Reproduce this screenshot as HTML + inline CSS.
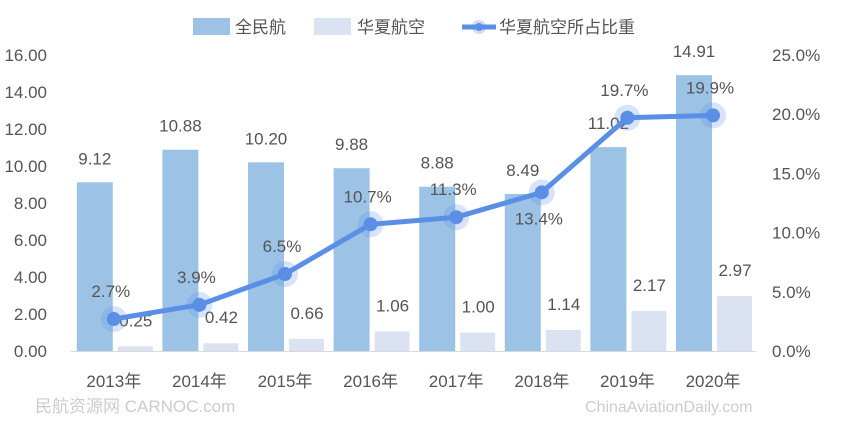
<!DOCTYPE html>
<html><head><meta charset="utf-8"><style>
body{margin:0;background:#fff;}
svg{display:block;font-family:"Liberation Sans","Noto Sans CJK SC",sans-serif;}
</style></head><body>
<svg id="c" width="844" height="435">
<rect x="0" y="0" width="844" height="435" fill="#fff"/>
<g>
<rect x="193" y="18" width="37" height="17" fill="#9cc3e5"/>
<text x="235" y="33" font-size="17" fill="#555">全民航</text>
<rect x="314" y="18" width="37" height="17" fill="#dbe3f2"/>
<text x="357" y="33" font-size="17" fill="#555">华夏航空</text>
<line x1="462" y1="27" x2="496" y2="27" stroke="#5b8fe6" stroke-width="5"/>
<circle cx="479" cy="27" r="7" fill="#5b8fe6" fill-opacity="0.3"/>
<circle cx="479" cy="27" r="4" fill="#5b8fe6"/>
<text x="499" y="33" font-size="17" fill="#555">华夏航空所占比重</text>
</g>
<g id="axes"></g><g id="marks"></g>
<text x="35" y="412" font-size="17" fill="#ccc">民航资源网 CARNOC.com</text>
<text x="585" y="412" font-size="16" fill="#ccc">ChinaAviationDaily.com</text>
</svg>
<script>
const categories=["2013年","2014年","2015年","2016年","2017年","2018年","2019年","2020年"];
const allValues=[9.12,10.88,10.20,9.88,8.88,8.49,11.02,14.91];
const huaxiaValues=[0.25,0.42,0.66,1.06,1.00,1.14,2.17,2.97];
const shareValues=[2.7,3.9,6.5,10.7,11.3,13.4,19.7,19.9];
const shareLabelBelow=[false,false,false,false,false,true,false,false];
const leftTicks=[0,2,4,6,8,10,12,14,16];
const rightTicks=[0,5,10,15,20,25];
const NS="http://www.w3.org/2000/svg";
const x0=71,band=85.6,yB=351,yT=55;
const yL=v=>yB-(v/16)*(yB-yT);
const yR=v=>yB-(v/25)*(yB-yT);
const xc=i=>x0+band*(i+0.5);
function el(t,a,p){const e=document.createElementNS(NS,t);for(const k in a)e.setAttribute(k,a[k]);p.appendChild(e);return e;}
const ax=document.getElementById('axes'),mk=document.getElementById('marks');
leftTicks.forEach(v=>{const t=el('text',{x:47,y:yL(v)+6,'font-size':17,fill:'#555','text-anchor':'end'},ax);t.textContent=v.toFixed(2);

});
rightTicks.forEach(v=>{const t=el('text',{x:772,y:yR(v)+6,'font-size':17,fill:'#555'},ax);t.textContent=v.toFixed(1)+'%';

});
const axl=el('line',{x1:x0,y1:yB+0.5,x2:x0+band*8,y2:yB+0.5,stroke:'#d9d9d9','stroke-width':1},ax);


categories.forEach((c,i)=>{const t=el('text',{x:xc(i),y:387,'font-size':17,fill:'#555','text-anchor':'middle'},ax);t.textContent=c;


const bx=xc(i)-37;
const b=el('rect',{x:bx,y:yL(allValues[i]),width:36,height:yB-yL(allValues[i]),fill:'#9cc3e5'},mk);


const lb=el('text',{x:bx+18,y:yL(allValues[i])-18,'font-size':17,fill:'#555','text-anchor':'middle'},mk);lb.textContent=allValues[i].toFixed(2);


const hx=xc(i)+4;
const h=el('rect',{x:hx,y:yL(huaxiaValues[i]),width:35,height:yB-yL(huaxiaValues[i]),fill:'#dbe3f2'},mk);


const hl=el('text',{x:hx+18,y:yL(huaxiaValues[i])-20,'font-size':17,fill:'#555','text-anchor':'middle'},mk);hl.textContent=huaxiaValues[i].toFixed(2);

});
const pts=shareValues.map((v,i)=>[xc(i),yR(v)]);
const pl=el('polyline',{points:pts.map(p=>p.join(',')).join(' '),fill:'none',stroke:'#5b8fe6','stroke-width':5,'stroke-linejoin':'round'},mk);


pts.forEach((p,i)=>{el('circle',{cx:p[0],cy:p[1],r:13,fill:'#5b8fe6','fill-opacity':0.25},mk);
const c=el('circle',{cx:p[0],cy:p[1],r:7,fill:'#5b8fe6'},mk);


const ly=shareLabelBelow[i]?p[1]+32:p[1]-22;
const t=el('text',{x:p[0]-3,y:ly,'font-size':17,fill:'#555','text-anchor':'middle'},mk);t.textContent=shareValues[i].toFixed(1)+'%';

});
</script>
</body></html>
